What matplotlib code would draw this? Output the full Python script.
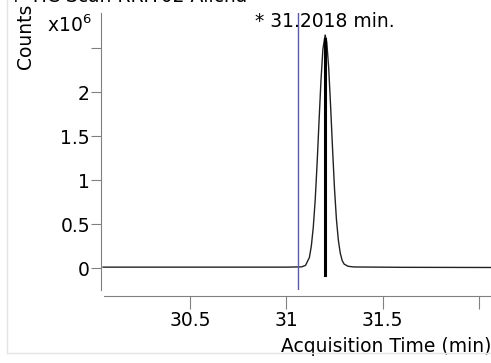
import matplotlib
import matplotlib.pyplot as plt

matplotlib.use('Agg')

# chromatogram (time in min, counts in x10^6)
times = [30.05, 31.00, 31.08, 31.10, 31.12, 31.13, 31.14, 31.15, 31.16, 31.17, 31.18,
         31.19, 31.2018, 31.21, 31.22, 31.23, 31.24, 31.25, 31.26, 31.27, 31.28,
         31.29, 31.30, 31.32, 31.35, 31.60, 32.06]
counts = [0.01, 0.01, 0.013, 0.03, 0.12, 0.25, 0.46, 0.77, 1.19, 1.67, 2.13,
          2.49, 2.65, 2.57, 2.28, 1.84, 1.36, 0.91, 0.56, 0.32, 0.17,
          0.085, 0.045, 0.02, 0.012, 0.008, 0.006]

peak_time = 31.2018
peak_top = 2.6
marker_time = 31.06
x_ticks = [30.5, 31, 31.5, 32]
x_labels = ['30.5', '31', '31.5', '']
y_ticks = [0, 0.5, 1, 1.5, 2, 2.5]
y_labels = ['0', '0.5', '1', '1.5', '2', '']

axis_gray = '#808080'
fs = 13.5

fig = plt.figure(figsize=(4.91, 3.63), dpi=100)
ax = fig.add_axes([101 / 491, 73 / 363, 390 / 491, 277 / 363])

ax.plot(times, counts, color='#222222', linewidth=1.0)
ax.plot([peak_time, peak_time], [-0.08, peak_top], color='black', linewidth=2.2)
ax.axvline(marker_time, color='#5a5aa8', linewidth=1.0)

ax.set_xlim(30.039, 32.062)
ax.set_ylim(-0.25, 2.9)
ax.set_xticks(x_ticks, x_labels)
ax.set_yticks(y_ticks, y_labels)

for side in ['top', 'right']:
    ax.spines[side].set_visible(False)
ax.spines['left'].set_color(axis_gray)
ax.spines['bottom'].set_color(axis_gray)
ax.spines['bottom'].set_position(('outward', 4))
ax.spines['bottom'].set_bounds(30.055, 32.062)
ax.tick_params(axis='x', length=9, color=axis_gray, labelsize=fs, pad=2)
ax.tick_params(axis='y', length=7, color=axis_gray, labelsize=fs, pad=1)

ax.set_xlabel('Acquisition Time (min)', fontsize=fs, loc='right', labelpad=5)

fig.text(25 / 491, 1 - 4 / 363, 'Counts', rotation=90, fontsize=fs,
         ha='center', va='top')
fig.text(47 / 491, 1 - 25 / 363, r'x10$^{6}$', fontsize=fs, ha='left', va='center')
ax.text(peak_time, 2.8, '* 31.2018 min.', fontsize=fs, ha='center', va='center')
fig.text(8 / 491, 1 + 3 / 363, '+ TIC Scan RR:Y02 Alicha', fontsize=fs,
         ha='left', va='center')

# faint panel border
fig.add_artist(plt.Line2D([7 / 491, 7 / 491], [10 / 363, 1], color='#e4e4e4', linewidth=1))
fig.add_artist(plt.Line2D([7 / 491, 1], [10 / 363, 10 / 363], color='#e4e4e4', linewidth=1))

fig.savefig('out.png', dpi=100)
plt.close(fig)
